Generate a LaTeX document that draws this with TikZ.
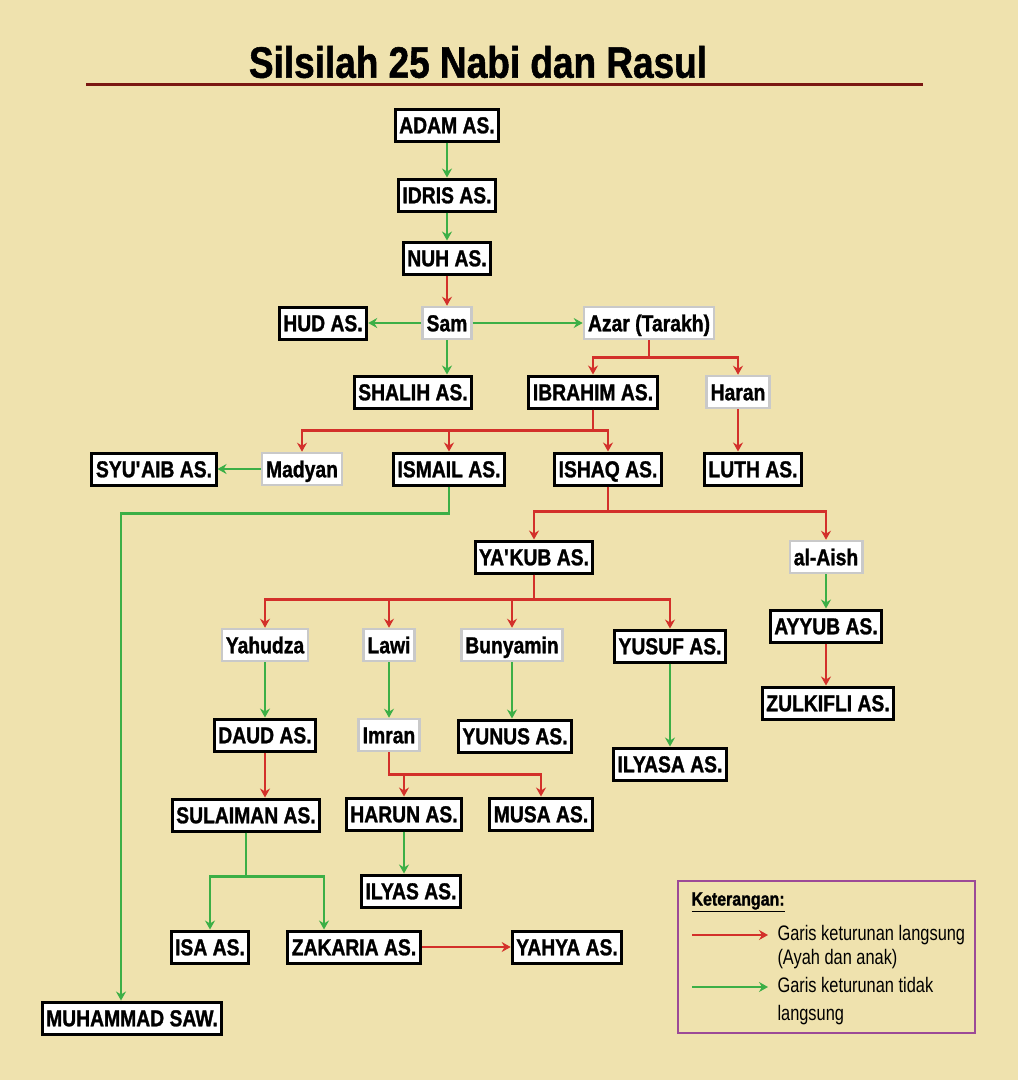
\documentclass[tikz,border=0pt]{standalone}
\usepackage{fontspec}
\setmainfont{Liberation Sans}[FakeStretch=0.84, BoldFeatures={FakeBold=1.2}]
\newfontfamily\legendfont{Liberation Sans}[FakeStretch=0.78]
\usetikzlibrary{arrows.meta}
\definecolor{latar}{HTML}{EFE2AE}
\definecolor{abu}{HTML}{C9C9C9}
\definecolor{merah}{HTML}{D3302A}
\definecolor{hijau}{HTML}{3CAF46}
\definecolor{ungu}{HTML}{9C4A97}
\definecolor{garisjudul}{HTML}{7A1712}
\begin{document}
\begin{tikzpicture}[x=1pt,y=-1pt,
    nabi/.style ={draw=black, line width=3pt, fill=white, inner xsep=4pt, inner ysep=3pt,
      text height=18.5pt, text depth=2pt, minimum height=32pt, font=\fontsize{23}{25}\selectfont\bfseries},
    tokoh/.style ={nabi, draw=abu, line width=2.6pt},
    langsung/.style ={draw=merah, line width=2.8pt, -{Stealth[length=9pt,width=10pt,inset=3pt]}},
    tidaklangsung/.style ={langsung, draw=hijau}]
   \fill[latar] (0,0) rectangle (1018,1080);
   \useasboundingbox (0,0) rectangle (1018,1080);

   \node[font=\fontsize{44}{46}\selectfont\bfseries] (judul) at (478,62) {Silsilah 25 Nabi dan Rasul};
   \coordinate (gariskiri) at (86,84);
   \coordinate (gariskanan) at (923,84);
   \draw[garisjudul, line width=3pt] (gariskiri) -- (gariskanan);

   \node[nabi] (adam)  at (447,125)  {ADAM AS.};
   \node[nabi] (idris)  at (447,195)  {IDRIS AS.};
   \node[nabi] (nuh)  at (447,258)  {NUH AS.};
   \node[tokoh] (sam)  at (447,323)  {Sam};
   \node[nabi] (hud)  at (323,323)  {HUD AS.};
   \node[tokoh] (azar)  at (649,323)  {Azar (Tarakh)};
   \node[nabi] (shalih)  at (413,392)  {SHALIH AS.};
   \node[nabi] (ibrahim)  at (593,392)  {IBRAHIM AS.};
   \node[tokoh] (haran)  at (738,392)  {Haran};
   \node[nabi] (syuaib)  at (154,469)  {SYU\textquotesingle AIB AS.};
   \node[tokoh] (madyan)  at (302,469)  {Madyan};
   \node[nabi] (ismail)  at (449,469)  {ISMAIL AS.};
   \node[nabi] (ishaq)  at (608,469)  {ISHAQ AS.};
   \node[nabi] (luth)  at (753,469)  {LUTH AS.};
   \node[nabi] (yakub)  at (534,557)  {YA\textquotesingle KUB AS.};
   \node[tokoh] (alaish)  at (826,557)  {al-Aish};
   \node[nabi] (ayyub)  at (826,626)  {AYYUB AS.};
   \node[nabi] (zulkifli)  at (828,703)  {ZULKIFLI AS.};
   \node[tokoh] (yahudza)  at (265,645)  {Yahudza};
   \node[tokoh] (lawi)  at (389,645)  {Lawi};
   \node[tokoh] (bunyamin)  at (512,645)  {Bunyamin};
   \node[nabi] (yusuf)  at (670,646)  {YUSUF AS.};
   \node[nabi] (daud)  at (265,735)  {DAUD AS.};
   \node[tokoh] (imran)  at (389,735)  {Imran};
   \node[nabi] (yunus)  at (515,736)  {YUNUS AS.};
   \node[nabi] (ilyasa)  at (670,764)  {ILYASA AS.};
   \node[nabi] (sulaiman)  at (246,815)  {SULAIMAN AS.};
   \node[nabi] (harun)  at (404,814)  {HARUN AS.};
   \node[nabi] (musa)  at (541,814)  {MUSA AS.};
   \node[nabi] (ilyas)  at (411,891)  {ILYAS AS.};
   \node[nabi] (isa)  at (210,947)  {ISA AS.};
   \node[nabi] (zakaria)  at (354,947)  {ZAKARIA AS.};
   \node[nabi] (yahya)  at (567,947)  {YAHYA AS.};
   \node[nabi] (muhammad)  at (132,1018)  {MUHAMMAD SAW.};

   \draw[tidaklangsung] (adam) to (idris);
   \draw[tidaklangsung] (idris) to (nuh);
   \draw[langsung] (nuh) to (sam);
   \draw[tidaklangsung] (sam) to (hud);
   \draw[tidaklangsung] (sam) to (azar);
   \draw[tidaklangsung] (sam.south) -- (sam.south |- shalih.north);
   \draw[langsung] (azar.south) -- ++(0,17) -| (ibrahim.north);
   \draw[langsung] (azar.south) -- ++(0,17) -| (haran.north);
   \draw[langsung] (ibrahim.south) -- ++(0,21) -| (madyan.north);
   \draw[langsung] (ibrahim.south) -- ++(0,21) -| (ismail.north);
   \draw[langsung] (ibrahim.south) -- ++(0,21) -| (ishaq.north);
   \draw[langsung] (haran.south) -- (haran.south |- luth.north);
   \draw[tidaklangsung] (madyan) to (syuaib);
   \draw[tidaklangsung] (ismail.south) -- ++(0,27) -| ([xshift=-11pt]muhammad.north);
   \draw[langsung] (ishaq.south) -- ++(0,25) -| (yakub.north);
   \draw[langsung] (ishaq.south) -- ++(0,25) -| (alaish.north);
   \draw[tidaklangsung] (alaish) to (ayyub);
   \draw[langsung] (ayyub.south) -- (ayyub.south |- zulkifli.north);
   \draw[langsung] (yakub.south) -- ++(0,25) -| (yahudza.north);
   \draw[langsung] (yakub.south) -- ++(0,25) -| (lawi.north);
   \draw[langsung] (yakub.south) -- ++(0,25) -| (bunyamin.north);
   \draw[langsung] (yakub.south) -- ++(0,25) -| (yusuf.north);
   \draw[tidaklangsung] (yahudza) to (daud);
   \draw[langsung] (daud.south) -- (daud.south |- sulaiman.north);
   \draw[tidaklangsung] (lawi) to (imran);
   \draw[tidaklangsung] (bunyamin.south) -- (bunyamin.south |- yunus.north);
   \draw[tidaklangsung] (yusuf) to (ilyasa);
   \draw[langsung] (imran.south) -- ++(0,22) -| (harun.north);
   \draw[langsung] (imran.south) -- ++(0,22) -| (musa.north);
   \draw[tidaklangsung] (harun.south) -- (harun.south |- ilyas.north);
   \draw[tidaklangsung] (sulaiman.south) -- ++(0,44) -| (isa.north);
   \draw[tidaklangsung] (sulaiman.south) -- ++(0,44) -| ([xshift=-30pt]zakaria.north);
   \draw[langsung] (zakaria) to (yahya);

   \node[draw=ungu, line width=2.6pt, minimum width=297pt, minimum height=152pt] (keterangan) at (826.5,957) {};
   \node[anchor=west, font=\fontsize{19}{21}\selectfont\bfseries] (judulket) at (688,902) {\underline{Keterangan:}};
   \coordinate (merahawal) at (692,935);
   \coordinate (merahakhir) at (768,935);
   \coordinate (hijauawal) at (692,987);
   \coordinate (hijauakhir) at (768,987);
   \draw[langsung] (merahawal) -- (merahakhir);
   \draw[tidaklangsung] (hijauawal) -- (hijauakhir);
   \node[anchor=west, align=left, font=\legendfont\fontsize{21}{24}\selectfont] (ketlangsung) at (774,947) {Garis keturunan langsung\\(Ayah dan anak)};
   \node[anchor=west, align=left, font=\legendfont\fontsize{21}{28}\selectfont] (kettidak) at (774,1001) {Garis keturunan tidak\\langsung};

 \end{tikzpicture}
\end{document}
